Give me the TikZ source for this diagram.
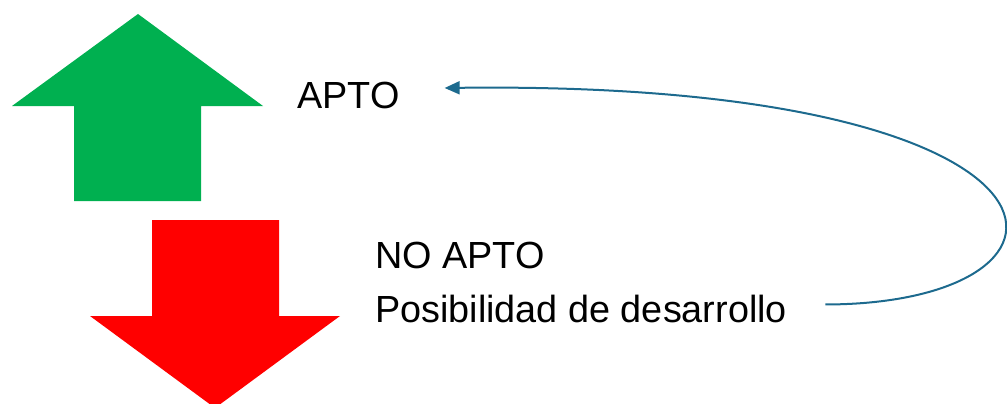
\documentclass[tikz,border=0pt]{standalone}
\usepackage{fontspec}
\setmainfont{Liberation Sans}
\usetikzlibrary{arrows.meta, calc, positioning}

\definecolor{okgreen}{HTML}{00B050}
\definecolor{nored}{HTML}{FF0000}
\definecolor{linkblue}{HTML}{1D6A8E}

\begin{document}
\begin{tikzpicture}[x=1pt, y=-1pt,
					label/.style={inner sep=0pt, anchor=base west, font=\fontsize{37.8}{45}\selectfont},
					link/.style={draw=linkblue, line width=2pt, -{Triangle[length=15pt, width=13pt]}}]
				\useasboundingbox (0,0) rectangle (1007,404);
				\clip (0,0) rectangle (1007,404);
				% big arrows
				\fill[okgreen] (138,14) -- (263,106) -- (201,106) -- (201,201)
					-- (74,201) -- (74,106) -- (12,106) -- cycle;
				\fill[nored] (215,408) -- (340,316) -- (279,316) -- (279,220)
					-- (152,220) -- (152,316) -- (90,316) -- cycle;
				% texts
				\node[label] (apto)   at (297,108) {APTO};
				\node[label] (noapto) at (375,268) {NO APTO};
				\node[label] (posib)  at (375,322) {Posibilidad de desarrollo};
				\draw[link] ($(posib.east)+(38,-4)$) .. controls (1112,304) and (1105,80) .. ($(apto.east)+(45,-7)$);
			\end{tikzpicture}
\end{document}
